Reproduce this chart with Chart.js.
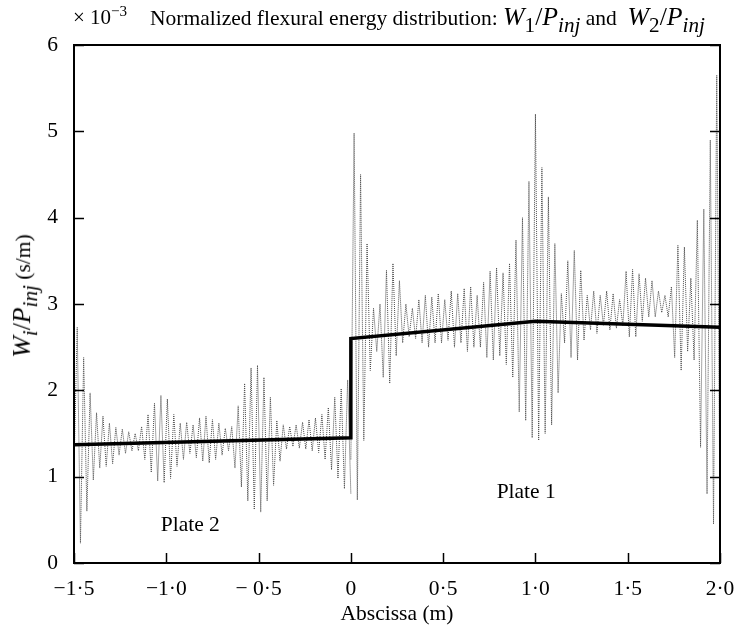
<!DOCTYPE html>
<html><head><meta charset="utf-8">
<script src="https://cdn.jsdelivr.net/npm/chart.js@4.4.1/dist/chart.umd.min.js"></script>
<style>
html,body{margin:0;padding:0;background:#fff;}
#wrap{position:relative;width:735px;height:631px;font-family:"Liberation Serif","Times New Roman",serif;color:#000;}
canvas{position:absolute;left:0;top:0;}
.t{position:absolute;white-space:nowrap;line-height:1;}
.m{font-size:1.2em;}
sub{font-size:0.82em;vertical-align:-0.32em;line-height:0;}
sup{font-size:0.72em;vertical-align:0.5em;line-height:0;}
</style></head>
<body><div id="wrap"><canvas id="c" width="735" height="631"></canvas>
<div class="t" style="left:73px;top:7px;font-size:21px">× 10<sup>−3</sup></div>
<div class="t" style="left:150px;top:4px;font-size:21.5px">Normalized flexural energy distribution: <span class="m"><i>W</i><sub>1</sub>/<i>P</i><sub><i>inj</i></sub></span> and&nbsp; <span class="m"><i>W</i><sub>2</sub>/<i>P</i><sub><i>inj</i></sub></span></div>
<div class="t" style="left:22px;top:296px;font-size:21.5px;transform:translate(-50%,-50%) rotate(-90deg);"><span class="m"><i>W</i><sub><i>i</i></sub>/<i>P</i><sub><i>inj</i></sub></span> (s/m)</div>
</div>
<script>
// Tick labels
const xTickLabels = ['\u22121\u00b75','\u22121\u00b70','\u2212 0\u00b75','0','0\u00b75','1\u00b70','1\u00b75','2\u00b70'];
const yTickLabels = ['0','1','2','3','4','5','6'];

// Mean energy level (thick line), units of 1e-3 s/m
const meanX = [-1.5, 0, 0, 1.0, 2.0];
const meanY = [1.37, 1.45, 2.60, 2.80, 2.73];

// Local energy (dotted, oscillating) on plate 2 (x from -1.5 to 0), read peak/trough by peak/trough
const plate2Values = [
 1.10,2.73,0.23,2.38,0.60,1.97,0.96,1.74,1.10,1.70,
 1.12,1.62,1.15,1.57,1.25,1.55,1.27,1.52,1.30,1.50,
 1.30,1.58,1.20,1.72,1.05,1.85,0.95,1.94,0.93,1.90,
 0.98,1.72,1.12,1.62,1.20,1.63,1.27,1.60,1.22,1.68,
 1.18,1.70,1.16,1.66,1.20,1.62,1.25,1.56,1.30,1.58,
 1.10,1.82,0.88,2.08,0.72,2.26,0.62,2.29,0.59,2.15,
 0.72,1.92,0.90,1.65,1.18,1.60,1.32,1.58,1.35,1.60,
 1.33,1.63,1.32,1.66,1.30,1.68,1.28,1.72,1.20,1.80,
 1.08,1.92,0.98,2.02,0.86,2.12,0.80];
const plate2Start = -1.5, plate2End = 0;

// Local energy on plate 1 (x from 0 to 2.0)
const plate1Values = [
 1.20,4.98,0.73,4.50,1.42,3.70,2.23,2.95,2.45,3.00,
 2.15,3.39,2.08,3.47,2.40,3.27,2.55,3.00,2.62,2.95,
 2.60,3.05,2.55,3.10,2.50,3.08,2.55,3.12,2.55,3.05,
 2.58,3.15,2.50,3.12,2.55,3.18,2.45,3.20,2.50,3.10,
 2.50,3.25,2.38,3.38,2.35,3.42,2.40,3.36,2.30,3.47,
 2.15,3.74,1.75,4.00,1.65,4.42,1.45,5.20,1.42,4.58,
 1.50,4.24,1.60,3.70,1.97,3.12,2.55,3.50,2.38,3.62,
 2.35,3.39,2.58,3.10,2.70,3.15,2.66,3.10,2.75,3.15,
 2.70,3.12,2.72,3.05,2.75,3.38,2.62,3.40,2.62,3.35,
 2.80,3.30,2.85,3.27,2.85,3.15,2.90,3.10,2.85,3.20,
 2.38,3.68,2.23,3.66,2.45,3.30,2.35,3.97,1.34,4.10,
 0.80,4.90,0.45,5.65,0.50];
const plate1Start = 0, plate1End = 2.0;

const plateLabels = [
  {text:'Plate 2', x:-0.87, y:0.44},
  {text:'Plate 1', x:0.95, y:0.82}
];

function along(vals, a, b){
  const n = vals.length - 1;
  return vals.map((v,i)=>({x: a + (b-a)*i/n, y: v}));
}

const FONT = '"Liberation Serif","Times New Roman",serif';

const framePlugin = {
  id:'frame',
  afterDatasetsDraw(chart){
    const {ctx, chartArea:a, scales:{x,y}} = chart;
    ctx.save();
    ctx.strokeStyle='#000';
    ctx.lineWidth=2;
    ctx.strokeRect(a.left, a.top, a.right-a.left, a.bottom-a.top);
    ctx.lineWidth=1.5;
    x.ticks.forEach(t=>{
      const px = Math.round(x.getPixelForValue(t.value))+0.5;
      ctx.beginPath(); ctx.moveTo(px,a.bottom); ctx.lineTo(px,a.bottom-10); ctx.stroke();
    });
    y.ticks.forEach(t=>{
      const py = Math.round(y.getPixelForValue(t.value))+0.5;
      ctx.beginPath(); ctx.moveTo(a.left,py); ctx.lineTo(a.left+10,py); ctx.stroke();
      ctx.beginPath(); ctx.moveTo(a.right,py); ctx.lineTo(a.right-10,py); ctx.stroke();
    });
    ctx.fillStyle='#000';
    ctx.font='21.5px '+FONT;
    ctx.textAlign='center';
    ctx.textBaseline='middle';
    plateLabels.forEach(l=>ctx.fillText(l.text, x.getPixelForValue(l.x), y.getPixelForValue(l.y)));
    ctx.restore();
  }
};

new Chart(document.getElementById('c'), {
  type:'line',
  data:{
    datasets:[
      {data: meanX.map((v,i)=>({x:v,y:meanY[i]})), borderColor:'#000', borderWidth:3.5, pointRadius:0, tension:0, borderJoinStyle:'miter'},
      {data: along(plate2Values, plate2Start, plate2End), borderColor:'#4a4a4a', borderWidth:1, borderDash:[1,1], pointRadius:0, tension:0},
      {data: along(plate1Values, plate1Start, plate1End), borderColor:'#4a4a4a', borderWidth:1, borderDash:[1,1], pointRadius:0, tension:0}
    ]
  },
  options:{
    responsive:false, animation:false, devicePixelRatio:1,
    layout:{padding:{top:45,right:15,left:0,bottom:0}},
    plugins:{legend:{display:false}, tooltip:{enabled:false}},
    scales:{
      x:{type:'linear', min:-1.5, max:2.0,
         afterFit(s){ s.height = 68; s.paddingLeft = 0; s.paddingRight = 0; },
         grid:{display:false, drawTicks:false}, border:{display:false},
         ticks:{stepSize:0.5, padding:13, color:'#000', font:{family:FONT, size:21.5},
                maxRotation:0, autoSkip:false,
                callback:(v,i)=>xTickLabels[i]},
         title:{display:true, text:'Abscissa (m)', color:'#000', font:{family:FONT, size:21.5}, padding:{top:0,bottom:4}}
      },
      y:{min:0, max:6,
         afterFit(s){ s.width = 74; s.paddingTop = 0; s.paddingBottom = 0; },
         grid:{display:false, drawTicks:false}, border:{display:false},
         ticks:{stepSize:1, padding:16, color:'#000', font:{family:FONT, size:21.5},
                callback:(v,i)=>yTickLabels[i]}
      }
    }
  },
  plugins:[framePlugin]
});
</script>
</body></html>
